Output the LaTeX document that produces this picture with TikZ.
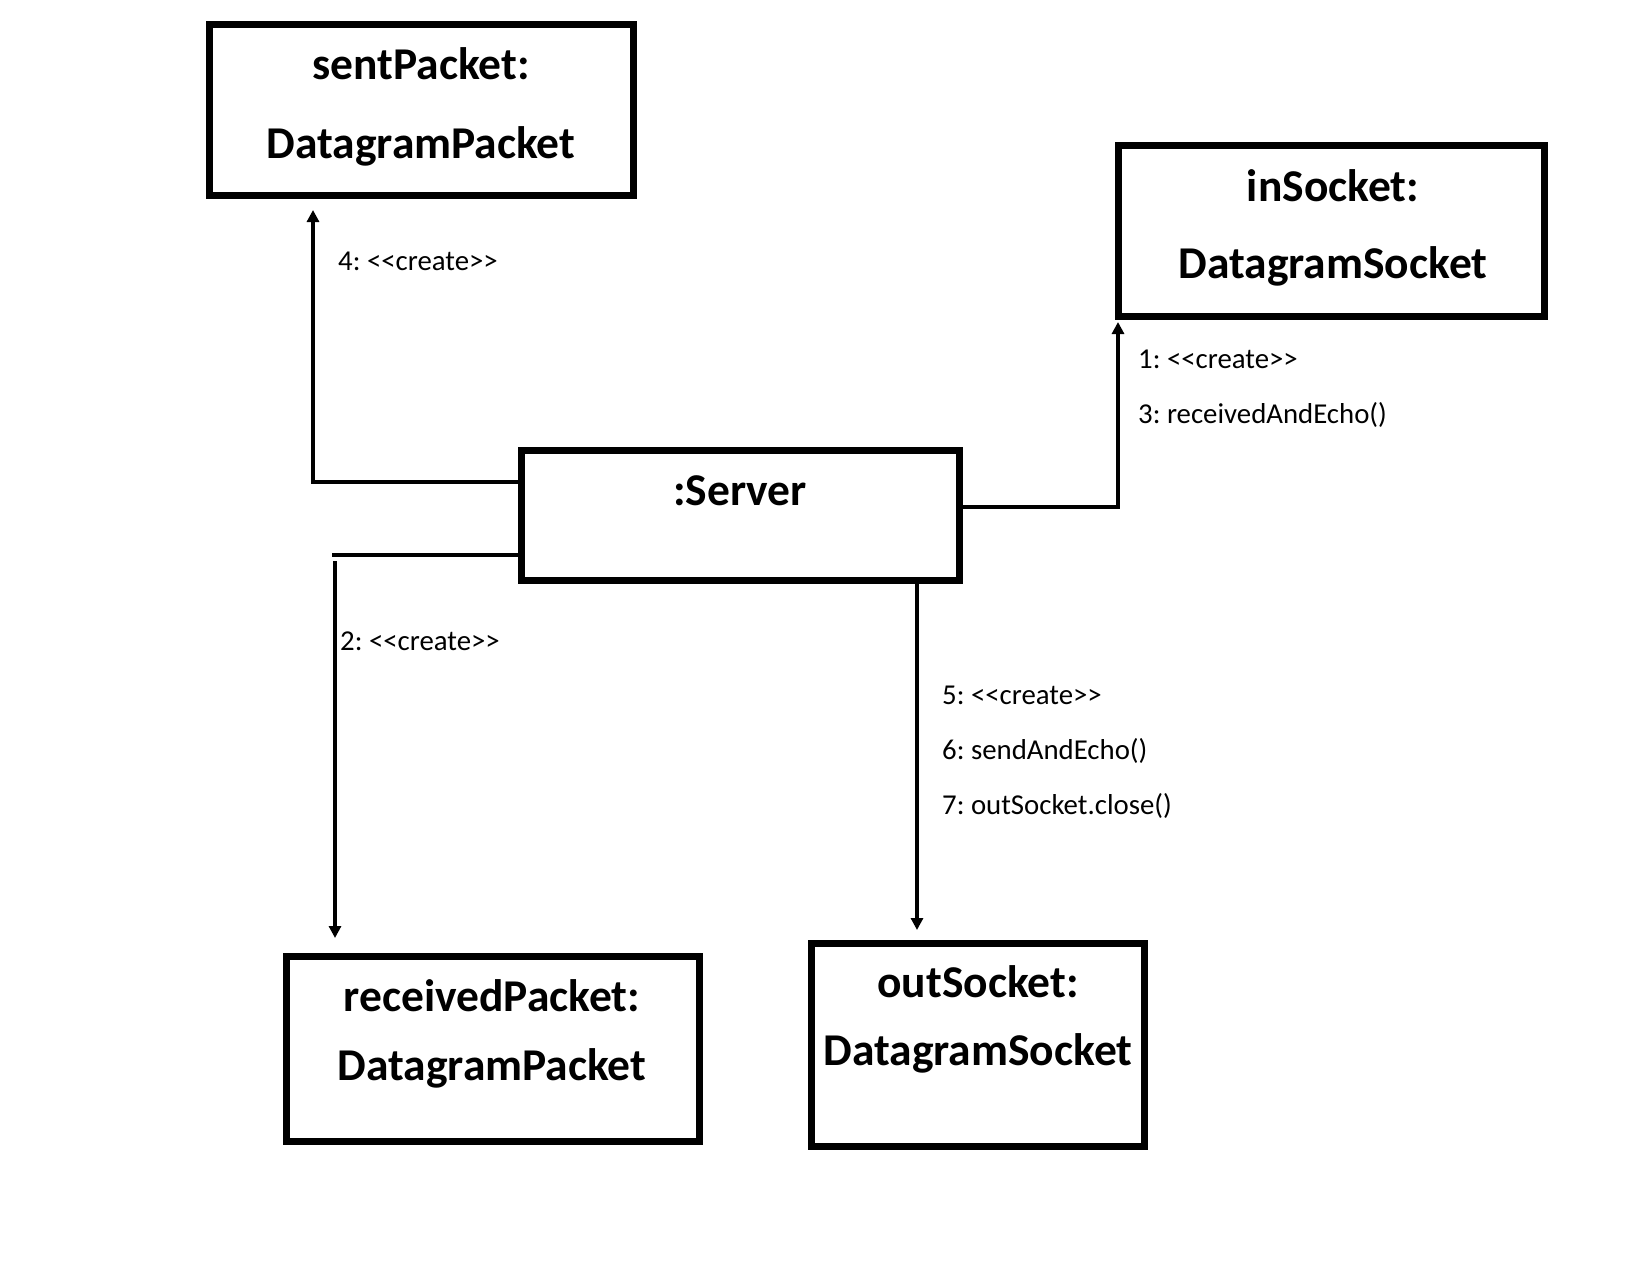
\documentclass[tikz,border=0pt]{standalone}
\usepackage{fontspec}
\setmainfont{Carlito}[Ligatures=TeXOff]
\usetikzlibrary{arrows.meta}
\frenchspacing
\tikzset{
  objbox/.style={draw=black, line width=7pt, fill=none, inner sep=0pt, anchor=center},
  title/.style={font=\fontsize{45.5}{50}\selectfont\bfseries, anchor=base, inner sep=0pt},
  msg/.style={font=\fontsize{28.8}{32}\selectfont, anchor=base west, inner sep=0pt},
  conn/.style={draw=black, line width=3.5pt, line join=miter},
  arr/.style={conn, -{Triangle[length=12pt,width=12pt]}}
}
\begin{document}
\begin{tikzpicture}[x=1pt,y=-1pt]
\useasboundingbox[fill=white] (0,0) rectangle (1650,1275);

% boxes
\node[objbox, minimum width=424pt, minimum height=171pt] (sent) at (421.5,110) {};
\node[objbox, minimum width=426pt, minimum height=171pt] (insock) at (1331.5,231) {};
\node[objbox, minimum width=438pt, minimum height=130pt] (server) at (740.5,515.5) {};
\node[objbox, minimum width=413pt, minimum height=185pt] (recv) at (493,1049) {};
\node[objbox, minimum width=333pt, minimum height=203pt] (outsock) at (978,1045) {};

% titles
\node[title] (sentA) at (421,79) {sentPacket:};
\node[title] (sentB) at (421,158) {DatagramPacket};
\node[title] (inA) at (1333,201) {inSocket:};
\node[title] (inB) at (1333,278) {DatagramSocket};
\node[title] (servA) at (740,505) {:Server};
\node[title] (recvA) at (492,1011) {receivedPacket:};
\node[title] (recvB) at (492,1080) {DatagramPacket};
\node[title] (outA) at (978,997) {outSocket:};
\node[title] (outB) at (978,1065) {DatagramSocket};

% connectors
\coordinate (k4) at (313,482);
\draw[arr, shorten >=11pt] (server.west |- 0,482) -- (k4) -- (sent.south -| k4);

\coordinate (k2) at (332,555);
\coordinate (k2b) at (335,561);
\draw[conn] (server.west |- 0,555) -- (k2);
\draw[arr, shorten >=15pt] (k2b) -- (recv.north -| k2b);

\coordinate (k1) at (1118,507);
\draw[arr, shorten >=2pt] (server.east |- 0,507) -- (k1) -- (insock.south -| k1);

\coordinate (k5) at (917,584);
\draw[arr, shorten >=10pt] (server.south -| k5) -- (outsock.north -| k5);

% messages
\node[msg] (m4) at (338,270) {4: <<create>>};
\node[msg] (m1) at (1138,368) {1: <<create>>};
\node[msg] (m3) at (1138,423) {3: receivedAndEcho()};
\node[msg] (m2) at (340,650) {2: <<create>>};
\node[msg] (m5) at (942,704) {5: <<create>>};
\node[msg] (m6) at (942,759) {6: sendAndEcho()};
\node[msg] (m7) at (942,814) {7: outSocket.close()};
\end{tikzpicture}
\end{document}
